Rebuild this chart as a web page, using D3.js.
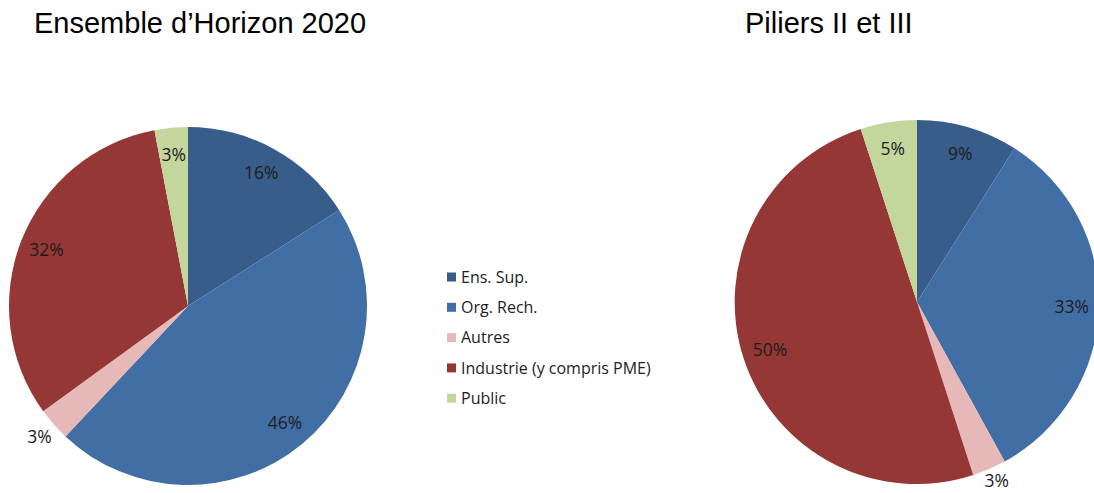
<!DOCTYPE html>
<html>
<head>
<meta charset="utf-8">
<script src="https://cdn.jsdelivr.net/npm/d3@7"></script>
<style>
  body { margin: 0; background: #fff; }
  text { font-family: "Open Sans", sans-serif; fill: #1d1d1d; }
  .titre { font-family: "Liberation Sans", Arial, sans-serif; font-size: 29px; fill: #000; }
</style>
</head>
<body>
<script>
// categories et valeurs (en %)
var categories = ["Ens. Sup.", "Org. Rech.", "Autres", "Industrie (y compris PME)", "Public"];
var couleurs = ["#385d8a", "#416ea4", "#e6b9b8", "#953735", "#c3d69b"];
var valeursH2020 = [16, 46, 3, 32, 3];
var valeursPiliers = [9, 33, 3, 50, 5];
var titres = ["Ensemble d\u2019Horizon 2020", "Piliers II et III"];
var dehors = ["Autres"]; // etiquettes placees hors du camembert

var width = 1094, height = 493;

var svg = d3.select("body").append("svg")
    .attr("width", width)
    .attr("height", height);

var couleur = d3.scaleOrdinal().domain(categories).range(couleurs);

var pie = d3.pie().sort(null).value(function(d) { return d.v; });

function camembert(valeurs, titre, cx, cy, r, tx) {
  var data = valeurs.map(function(v, i) { return {cat: categories[i], v: v}; });
  var arc = d3.arc().innerRadius(0).outerRadius(r);
  var arcIn = d3.arc().innerRadius(r * 0.85).outerRadius(r * 0.85);
  var arcOut = d3.arc().innerRadius(r + 19).outerRadius(r + 19);

  var g = svg.append("g").attr("transform", "translate(" + cx + "," + cy + ")");
  var parts = pie(data);

  g.selectAll("path")
      .data(parts)
      .enter().append("path")
      .attr("d", arc)
      .style("fill", function(d) { return couleur(d.data.cat); });

  g.selectAll("text")
      .data(parts)
      .enter().append("text")
      .attr("transform", function(d) {
        var p = (dehors.indexOf(d.data.cat) >= 0 ? arcOut : arcIn).centroid(d);
        // garder l'etiquette dans l'image
        p[1] = Math.min(p[1], height - 12 - cy);
        return "translate(" + p + ")";
      })
      .attr("text-anchor", "middle")
      .attr("dy", "0.35em")
      .style("font-size", "17.5px")
      .text(function(d) { return d.data.v + "%"; });

  svg.append("text")
      .attr("class", "titre")
      .attr("x", tx)
      .attr("y", 33)
      .text(titre);
}

camembert(valeursH2020, titres[0], 188, 306, 179, 34);
camembert(valeursPiliers, titres[1], 917, 302, 182, 745);

// legende
var legende = svg.append("g").attr("transform", "translate(447,277)");
var ligne = legende.selectAll("g")
    .data(categories)
    .enter().append("g")
    .attr("transform", function(d, i) { return "translate(0," + (i * 30.3) + ")"; });

ligne.append("rect")
    .attr("x", 0).attr("y", -4.5)
    .attr("width", 9).attr("height", 9)
    .style("fill", function(d) { return couleur(d); });

ligne.append("text")
    .attr("x", 14)
    .attr("dy", "0.35em")
    .style("font-size", "16px")
    .text(function(d) { return d; });
</script>
</body>
</html>
